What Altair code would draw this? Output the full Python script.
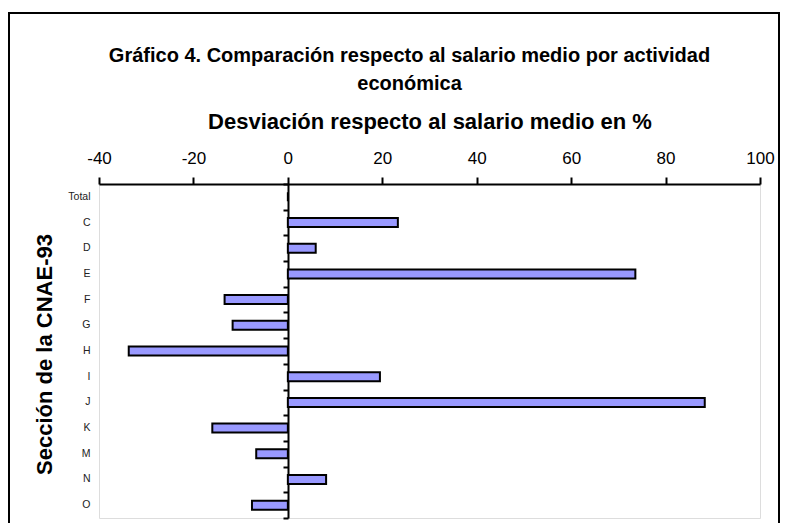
import altair as alt
import pandas as pd

FONT = "Liberation Sans"

categories = ["Total", "C", "D", "E", "F", "G", "H", "I", "J", "K", "M", "N", "O"]
values = [0, 23.3, 5.9, 73.6, -13.4, -11.7, -33.7, 19.5, 88.3, -16.0, -6.7, 8.1, -7.6]
x_ticks = [-40, -20, 0, 20, 40, 60, 80, 100]

title_lines = ["Gráfico 4. Comparación respecto al salario medio por actividad", "económica"]
x_title = "Desviación respecto al salario medio en %"
y_title = "Sección de la CNAE-93"

df = pd.DataFrame({"cat": categories, "val": values})

W, H = 661, 334

xscale = alt.Scale(domain=[-40, 100], nice=False, zero=False)
yscale = alt.Scale(paddingInner=0, paddingOuter=0)

xaxis = alt.Axis(
    orient="top", values=x_ticks, grid=False, labelFlush=False,
    labelExpr="'' + datum.value",
    domainColor="black", domainWidth=2,
    tickColor="black", tickWidth=2, tickSize=7,
    labelFont=FONT, labelFontSize=17, labelColor="black",
    labelBaseline="alphabetic", labelPadding=14,
    title=x_title, titleFont=FONT, titleFontSize=22, titleFontWeight="bold",
    titleColor="black", titleBaseline="alphabetic", titleY=-56, titleX=W / 2,
)

yaxis_labels = alt.Axis(
    orient="left", domain=False, ticks=False, tickSize=0, grid=False,
    labelFont=FONT, labelFontSize=10.5, labelColor="#222222", labelPadding=9,
    title=y_title, titleFont=FONT, titleFontSize=22, titleFontWeight="bold",
    titleColor="black", titleAngle=270, titleBaseline="alphabetic",
    titleAlign="center", titleX=-48, titleY=170,
)

yaxis_zero = alt.Axis(
    orient="left", offset=-189, labels=False, title=None, grid=False,
    domainColor="black", domainWidth=2,
    tickColor="black", tickWidth=2, tickSize=5, tickBand="extent",
)

bars = alt.Chart(df).mark_bar(
    size=9, fill="#9999FF", stroke="black", strokeWidth=2
).encode(
    x=alt.X("val:Q", scale=xscale, axis=xaxis),
    y=alt.Y("cat:N", sort=categories, scale=yscale, axis=yaxis_labels),
)

zero_axis = alt.Chart(df).mark_point(opacity=0).encode(
    x=alt.X("val:Q", scale=xscale),
    y=alt.Y("cat:N", sort=categories, scale=yscale, axis=yaxis_zero),
)

border = alt.Chart(pd.DataFrame({"a": [0]})).mark_rect(
    fill="white", fillOpacity=0, stroke="black", strokeWidth=2
).encode(
    x=alt.value(-90), x2=alt.value(680), y=alt.value(-171), y2=alt.value(400)
)

chart = alt.layer(border, bars, zero_axis).resolve_axis(y="independent").properties(
    width=W, height=H,
    autosize=alt.AutoSizeParams(type="none"),
    padding={"left": 91, "top": 176, "right": 20, "bottom": 5},
    title=alt.TitleParams(
        text=title_lines, font=FONT, fontSize=20, fontWeight="bold", color="black",
        lineHeight=28, anchor="middle", dx=-20, offset=-98, baseline="alphabetic",
    ),
).configure_view(stroke="#808080", strokeWidth=2).configure(background="white")

chart.save("out.html", embed_options={"renderer": "svg", "actions": False})
